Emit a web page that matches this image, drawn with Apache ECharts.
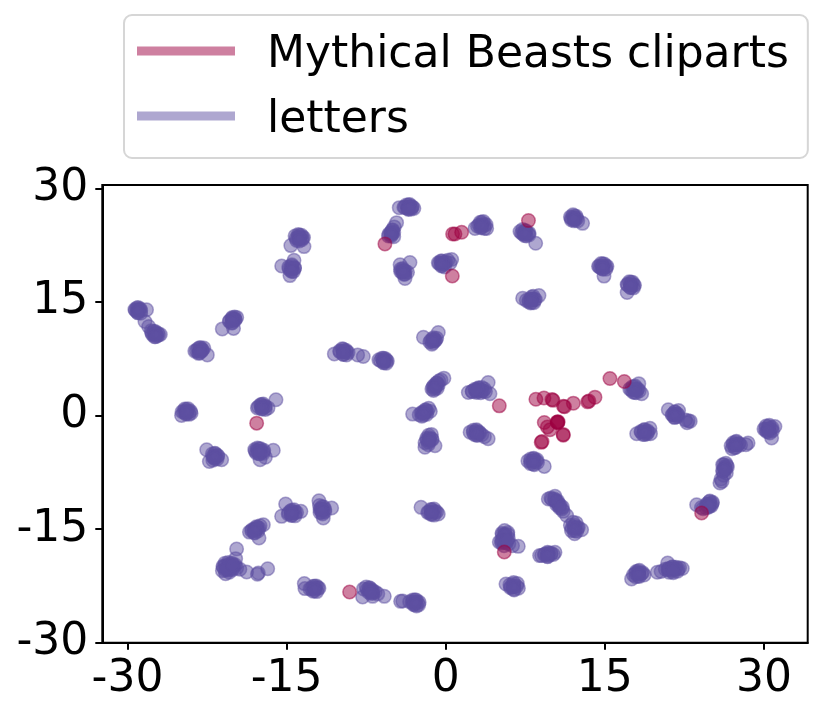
<!DOCTYPE html>
<html>
<head>
<meta charset="utf-8">
<style>
  html, body { margin: 0; padding: 0; background: #fff; }
  #chart { width: 830px; height: 716px; }
</style>
<script src="https://cdn.jsdelivr.net/npm/echarts@6/dist/echarts.min.js"></script>
</head>
<body>
<div id="chart"></div>
<script>
var xTicks = [-30, -15, 0, 15, 30];
var yTicks = [-30, -15, 0, 15, 30];

var mythicalBeasts = [
  [-5.73, 22.65], [0.65, 23.97], [0.87, 23.97], [1.5, 24.2], [7.8, 25.73], [0.62, 18.42],
  [5.05, 1.27], [15.48, 4.88], [16.83, 4.48], [8.5, 2.15], [9.26, 2.3], [10.02, 2.1], [10.12, 2.0],
  [11.1, 1.22], [11.2, 1.15], [12.03, 1.63], [13.38, 1.8], [13.5, 1.9], [14.07, 2.42],
  [9.29, -0.92], [9.58, -1.53], [9.83, -1.89], [10.5, -0.85], [10.55, -0.9], [10.6, -0.82], [10.55, -0.95],
  [11.08, -2.5], [11.08, -2.6], [9.0, -3.55], [9.08, -3.45], [5.52, -18.03], [24.12, -12.88],
  [-17.82, -1.01], [-9.06, -23.3]
];

var lettersTopLeft = [
  [-29.3, 14.0], [-29.1, 14.2], [-28.95, 13.9], [-28.8, 14.1], [-29.05, 13.6], [-28.75, 13.5], [-28.2, 13.95],
  [-28.35, 12.4], [-28.0, 11.74], [-27.75, 11.2],
  [-27.7, 10.9], [-27.5, 11.1], [-27.35, 10.8], [-27.2, 10.5], [-27.45, 10.4], [-27.05, 10.65], [-26.9, 10.7],
  [-23.65, 8.5], [-23.35, 8.8], [-23.1, 8.95], [-23.2, 8.4], [-22.95, 8.7], [-22.8, 8.9], [-23.3, 8.2], [-22.47, 8.0],
  [-20.4, 12.45], [-20.15, 12.8], [-19.9, 13.0], [-20.2, 12.2], [-19.85, 12.7], [-19.7, 12.95], [-20.0, 11.5], [-21.06, 11.43],
  [-14.2, 23.7], [-13.9, 23.9], [-13.6, 23.8], [-13.4, 23.5], [-13.85, 23.3], [-13.55, 23.2], [-14.05, 23.1], [-14.6, 22.43], [-13.36, 22.3],
  [-14.8, 19.6], [-14.5, 19.9], [-14.25, 19.5], [-14.6, 19.1], [-14.35, 19.0], [-14.3, 20.5], [-15.46, 19.74], [-14.68, 18.47],
  [-3.95, 27.5], [-3.7, 27.8], [-3.4, 27.85], [-3.15, 27.55], [-3.55, 27.3], [-3.25, 27.25], [-3.0, 27.35], [-4.38, 27.44],
  [-5.4, 23.7], [-5.2, 24.1], [-5.0, 24.5], [-4.85, 24.9], [-5.1, 23.9], [-4.9, 23.6], [-4.63, 25.46],
  [-4.3, 19.9], [-4.25, 19.3], [-4.1, 18.9], [-3.95, 19.1], [-3.85, 18.65], [-3.6, 18.9], [-3.37, 20.2], [-3.84, 18.1],
  [-0.7, 20.15], [-0.45, 20.4], [-0.2, 20.0], [0.0, 20.3], [-0.4, 19.75], [-0.1, 19.6], [0.2, 20.5], [0.56, 20.6], [0.4, 20.1],
  [-1.5, 9.7], [-1.25, 10.1], [-1.0, 9.9], [-1.3, 9.4], [-0.85, 10.2], [-0.7, 10.95], [-2.1, 10.33],
  [-10.0, 8.5], [-9.75, 8.8], [-9.4, 8.6], [-9.2, 8.3], [-9.65, 8.1], [-9.35, 8.0], [-10.5, 8.13], [-8.3, 8.0], [-7.77, 7.78],
  [-6.3, 7.35], [-6.0, 7.55], [-5.7, 7.5], [-5.5, 7.2], [-5.85, 7.0], [-5.6, 6.9],
  [-1.3, 3.5], [-1.1, 3.95], [-0.85, 4.3], [-0.65, 4.55], [-1.15, 3.3], [-0.8, 3.6], [-0.17, 4.93], [-0.45, 4.7],
  [-2.5, 0.1], [-2.2, 0.4], [-1.9, 0.7], [-1.6, 0.95], [-2.25, -0.1], [-1.8, 0.15], [-3.12, 0.18], [-1.45, 0.55],
  [-24.85, 0.5], [-24.6, 0.85], [-24.3, 0.9], [-24.05, 0.55], [-24.5, 0.25], [-24.2, 0.15], [-24.9, 0.0], [-24.0, 0.3],
  [-17.75, 1.0], [-17.45, 1.4], [-17.2, 1.5], [-17.0, 1.2], [-17.35, 0.9], [-17.0, 0.8], [-16.75, 1.0], [-16.0, 2.07]
];

var lettersTopRight = [
  [3.0, 25.0], [3.25, 25.5], [3.55, 25.6], [3.8, 25.2], [3.3, 24.8], [3.65, 24.7], [2.76, 24.7], [3.86, 24.7],
  [7.0, 24.3], [7.25, 24.55], [7.55, 24.4], [7.85, 24.1], [7.3, 23.95], [7.6, 23.7], [7.85, 23.85], [8.48, 22.73],
  [11.75, 26.2], [12.0, 26.5], [12.3, 26.3], [12.15, 25.85], [12.45, 25.7], [11.85, 25.8], [12.9, 25.37],
  [14.4, 19.7], [14.65, 20.05], [14.95, 20.0], [15.2, 19.7], [14.8, 19.35], [15.1, 19.3], [14.92, 18.4], [14.6, 19.5],
  [17.1, 17.3], [17.3, 17.65], [17.6, 17.6], [17.8, 17.2], [17.4, 16.9], [17.7, 16.85], [17.1, 16.23],
  [7.25, 15.48], [7.85, 15.0], [8.05, 15.4], [8.25, 15.75], [8.45, 15.3], [8.0, 14.85], [8.3, 14.9], [7.6, 15.2], [8.79, 15.83],
  [2.13, 3.04], [2.5, 3.2], [2.8, 3.35], [3.1, 3.6], [3.4, 3.7], [3.65, 3.5], [2.9, 3.05], [3.3, 3.0], [3.75, 3.15], [4.0, 4.36], [4.17, 2.86],
  [17.35, 3.5], [17.6, 3.8], [17.85, 3.9], [18.1, 3.5], [17.65, 3.1], [17.95, 3.0], [18.25, 3.25], [18.47, 2.86], [18.2, 4.2],
  [20.98, 0.75], [21.4, 0.1], [21.6, 0.45], [21.85, 0.2], [21.55, -0.25], [21.85, -0.15], [21.95, 0.65], [22.6, -0.6], [22.87, -0.7], [23.05, -0.75], [22.75, -0.95],
  [2.3, -2.2], [2.6, -1.95], [2.9, -1.9], [3.15, -2.2], [2.7, -2.5], [3.0, -2.6], [3.4, -2.55], [3.65, -2.8], [4.0, -3.07],
  [18.0, -2.41], [18.4, -2.1], [18.7, -1.9], [19.0, -2.0], [19.25, -1.7], [18.6, -2.5], [18.95, -2.45], [19.3, -2.4],
  [7.75, -6.0], [8.0, -5.75], [8.3, -5.65], [8.6, -5.85], [8.0, -6.35], [8.35, -6.5], [8.65, -6.2], [9.29, -6.72],
  [30.0, -1.8], [30.2, -1.4], [30.5, -1.3], [30.75, -1.6], [30.25, -2.1], [30.55, -2.3], [30.8, -2.0], [31.03, -1.45], [30.72, -2.98],
  [26.9, -4.0], [27.1, -3.6], [27.4, -3.4], [27.65, -3.7], [27.25, -4.25], [27.0, -4.4], [27.8, -3.9], [28.3, -3.85], [28.5, -3.64],
  [26.1, -6.5], [26.4, -6.3], [26.55, -6.8], [26.3, -7.1], [26.15, -7.4], [26.2, -7.9], [26.45, -7.6], [25.85, -8.92], [25.95, -8.4], [26.05, -8.7],
  [24.6, -11.7], [24.9, -11.3], [25.15, -11.45], [24.55, -12.2], [24.85, -12.0], [24.25, -12.3], [24.1, -12.15], [25.05, -11.9], [23.65, -11.78]
];

var lettersBottomLeft = [
  [-22.53, -4.53], [-22.0, -5.1], [-21.75, -5.0], [-21.5, -5.3], [-21.85, -5.6], [-21.55, -5.75], [-22.28, -6.07], [-21.12, -5.85], [-21.95, -5.9],
  [-18.0, -4.5], [-17.75, -4.3], [-17.45, -4.4], [-17.15, -4.6], [-17.85, -4.95], [-17.55, -5.05], [-17.2, -5.0], [-17.5, -5.85], [-17.0, -5.5], [-16.25, -4.6],
  [-1.95, -3.6], [-1.8, -3.0], [-1.6, -2.6], [-1.35, -2.5], [-1.55, -3.2], [-1.3, -3.1], [-1.65, -3.85], [-1.96, -4.18], [-1.01, -4.0],
  [-15.09, -11.7], [-14.85, -13.0], [-14.6, -12.6], [-14.3, -12.45], [-14.05, -12.8], [-14.55, -13.2], [-14.2, -13.25], [-15.47, -13.32], [-13.65, -12.66],
  [-11.95, -11.25], [-11.9, -11.9], [-11.75, -12.3], [-11.5, -12.1], [-11.85, -12.8], [-11.6, -13.0], [-11.4, -12.7], [-11.54, -13.54], [-10.75, -12.22],
  [-1.7, -12.8], [-1.4, -12.4], [-1.1, -12.35], [-0.85, -12.75], [-1.4, -13.05], [-1.1, -13.15], [-0.7, -13.0], [-2.33, -12.13],
  [-18.5, -15.4], [-18.25, -15.1], [-18.0, -14.95], [-17.75, -14.75], [-17.5, -14.55], [-17.19, -14.42], [-18.0, -15.5], [-17.7, -15.25], [-17.6, -16.18],
  [-21.0, -19.9], [-20.8, -19.5], [-20.5, -19.4], [-20.15, -19.5], [-19.85, -19.7], [-21.05, -20.5], [-20.7, -20.2], [-20.35, -20.1], [-20.0, -20.05], [-19.7, -20.15],
  [-20.75, -20.9], [-20.4, -20.7], [-19.71, -17.63], [-19.8, -18.9], [-19.4, -20.3], [-18.76, -20.67], [-17.66, -20.8], [-17.75, -20.95], [-16.78, -20.23],
  [-13.33, -22.2], [-13.27, -22.86], [-12.8, -22.9], [-12.5, -22.55], [-12.2, -22.5], [-11.95, -22.8], [-12.5, -23.2], [-12.15, -23.25],
  [-7.75, -22.9], [-7.5, -22.65], [-7.2, -22.75], [-6.95, -23.05], [-6.65, -23.3], [-6.4, -23.55], [-7.3, -23.3], [-6.9, -23.5], [-7.83, -23.96], [-6.89, -23.88], [-5.79, -23.88],
  [-4.25, -24.54], [-4.05, -24.5], [-3.4, -24.6], [-3.1, -24.35], [-2.8, -24.35], [-2.5, -24.65], [-3.05, -24.95], [-2.75, -25.15], [-2.55, -25.0]
];

var lettersBottomRight = [
  [9.67, -11.03], [9.9, -10.9], [10.3, -10.68], [10.4, -11.3], [10.46, -11.78], [10.7, -11.95], [10.95, -12.35], [11.08, -12.66], [11.4, -13.2],
  [11.75, -14.5], [12.0, -14.1], [12.3, -14.2], [12.5, -14.8], [11.85, -15.2], [12.15, -15.6], [12.35, -15.3], [12.81, -15.08],
  [5.3, -15.55], [5.55, -15.2], [5.85, -15.45], [5.6, -15.95], [5.9, -16.2], [5.05, -16.7], [5.27, -16.84], [5.6, -16.6], [5.95, -16.95], [5.5, -17.2], [6.3, -17.2], [6.84, -17.28],
  [8.85, -18.5], [9.04, -18.5], [9.35, -18.3], [9.6, -18.6], [9.67, -18.15], [9.95, -18.2], [10.3, -18.07], [10.15, -18.35],
  [5.68, -22.25], [6.05, -22.35], [6.4, -22.05], [6.75, -22.2], [6.1, -22.75], [6.45, -23.05], [6.85, -22.8],
  [17.52, -21.58], [17.7, -21.05], [17.95, -20.6], [18.25, -20.45], [18.55, -20.75], [17.9, -21.3], [18.25, -21.25], [18.7, -21.05],
  [19.94, -20.7], [20.3, -20.6], [20.92, -19.48], [20.7, -20.3], [21.0, -20.2], [21.35, -20.0], [21.7, -20.05], [22.05, -20.1], [22.3, -20.2], [21.05, -20.7], [21.45, -20.75], [21.85, -20.55]
];

// dense middles of the clumps, where the dots pile up to solid colour
var lettersDense = [
  [-29.0, 13.95], [-29.1, 13.8], [-28.9, 14.0], [-27.4, 10.8], [-27.3, 10.7], [-27.45, 10.65], [-23.2, 8.6], [-23.1, 8.65], [-23.05, 8.5],
  [-20.1, 12.6], [-20.05, 12.5], [-20.0, 12.75], [-13.8, 23.5], [-13.7, 23.45], [-13.9, 23.55], [-13.75, 23.35], [-14.5, 19.4], [-14.45, 19.5], [-14.55, 19.3],
  [-3.55, 27.55], [-3.5, 27.45], [-3.35, 27.5], [-3.6, 27.4], [-5.15, 24.05], [-5.05, 24.2], [-5.1, 24.0], [-4.0, 19.0], [-4.05, 19.2], [-3.95, 18.9],
  [-0.35, 20.15], [-0.3, 20.05], [-0.4, 20.1], [-1.15, 9.9], [-1.2, 9.85], [-1.1, 10.0], [-9.65, 8.45], [-9.6, 8.35], [-9.55, 8.5], [-5.9, 7.3], [-5.85, 7.25], [-5.8, 7.2],
  [-0.95, 3.9], [-0.9, 3.85], [-1.0, 3.75], [-2.0, 0.45], [-1.95, 0.35], [-2.1, 0.3], [-24.45, 0.55], [-24.5, 0.5], [-24.4, 0.45], [-17.35, 1.15], [-17.3, 1.2], [-17.25, 1.1],
  [3.4, 25.2], [3.35, 25.1], [3.45, 25.15], [7.45, 24.05], [7.5, 24.1], [7.4, 24.0], [12.1, 26.05], [12.15, 26.1], [12.05, 25.95], [14.8, 19.7], [14.85, 19.65], [14.75, 19.6],
  [17.45, 17.25], [17.4, 17.3], [17.5, 17.2], [8.1, 15.3], [8.05, 15.25], [8.15, 15.35], [2.9, 3.3], [3.0, 3.4], [3.2, 3.35], [3.4, 3.3],
  [17.8, 3.4], [17.75, 3.45], [17.85, 3.35], [21.6, 0.1], [21.65, 0.05], [21.55, 0.15], [2.9, -2.3], [2.85, -2.2], [3.0, -2.35], [18.75, -2.2], [18.8, -2.25], [18.7, -2.15],
  [8.25, -6.1], [8.2, -6.05], [8.3, -6.0], [30.4, -1.8], [30.45, -1.75], [30.35, -1.85], [27.35, -3.85], [27.3, -3.8], [27.4, -3.9], [26.3, -6.8], [26.35, -6.9], [26.25, -7.0],
  [24.85, -11.75], [24.8, -11.7], [24.9, -11.8]
];

var lettersDenseLower = [
  [-21.75, -5.4], [-21.7, -5.35], [-21.8, -5.45], [-17.65, -4.75], [-17.6, -4.7], [-17.4, -4.8], [-17.75, -4.65], [-1.55, -3.3], [-1.6, -3.2], [-1.5, -3.15],
  [-14.5, -12.85], [-14.45, -12.8], [-14.55, -12.9], [-11.65, -12.4], [-11.7, -12.5], [-11.6, -12.55], [-1.3, -12.75], [-1.25, -12.7], [-1.35, -12.8],
  [-18.0, -15.1], [-17.95, -15.05], [-18.1, -15.2], [-17.8, -15.0], [-20.5, -20.0], [-20.55, -19.9], [-20.45, -20.15], [-20.3, -19.95], [-20.25, -20.2], [-20.65, -20.3], [-20.15, -20.0],
  [-12.35, -22.85], [-12.3, -22.8], [-12.4, -22.9], [-7.15, -23.1], [-7.1, -23.15], [-7.2, -23.05], [-6.9, -23.3], [-2.9, -24.65], [-2.85, -24.7], [-2.95, -24.75],
  [10.3, -11.2], [10.4, -11.4], [10.6, -11.6], [10.75, -11.8], [10.25, -11.0], [12.15, -14.85], [12.2, -14.9], [12.1, -14.75],
  [5.55, -15.75], [5.6, -15.7], [5.5, -15.85], [5.35, -16.4], [5.45, -16.7], [5.7, -16.8], [9.6, -18.35], [9.65, -18.4], [9.7, -18.3], [6.4, -22.6], [6.45, -22.55], [6.35, -22.65],
  [18.15, -20.85], [18.2, -20.9], [18.1, -20.8], [21.4, -20.3], [21.45, -20.35], [21.2, -20.25], [21.65, -20.3], [21.0, -20.4]
];

// outer edge of the solid part of each clump
var lettersEdge = [
  [-29.25, 13.9], [-28.75, 13.85], [-29.0, 14.25], [-29.0, 13.55], [-27.65, 10.7], [-27.15, 10.85], [-27.4, 11.1], [-27.35, 10.4],
  [-23.5, 8.55], [-22.95, 8.6], [-23.2, 8.95], [-23.2, 8.25], [-20.35, 12.5], [-19.85, 12.6], [-20.1, 12.95], [-20.1, 12.25],
  [-14.1, 23.4], [-13.5, 23.45], [-13.8, 23.8], [-13.8, 23.05], [-14.75, 19.35], [-14.25, 19.45], [-14.5, 19.75], [-14.5, 19.0],
  [-3.85, 27.5], [-3.2, 27.5], [-3.5, 27.8], [-3.5, 27.2], [-5.35, 23.95], [-4.9, 24.15], [-5.05, 24.45], [-5.15, 23.7],
  [-4.25, 19.0], [-3.8, 19.05], [-4.05, 19.4], [-3.95, 18.65], [-0.6, 20.1], [-0.1, 20.1], [-0.35, 20.4], [-0.35, 19.8],
  [-1.4, 9.9], [-0.95, 9.95], [-1.15, 10.25], [-1.2, 9.6], [-9.95, 8.4], [-9.35, 8.4], [-9.65, 8.75], [-9.65, 8.05],
  [-6.15, 7.25], [-5.6, 7.25], [-5.85, 7.55], [-5.85, 6.95], [-1.2, 3.75], [-0.7, 4.05], [-0.85, 4.25], [-1.05, 3.5],
  [-2.3, 0.35], [-1.75, 0.55], [-1.9, 0.75], [-2.1, 0.05], [-24.7, 0.5], [-24.2, 0.5], [-24.45, 0.8], [-24.45, 0.2],
  [-17.65, 1.15], [-17.05, 1.15], [-17.35, 1.45], [-17.3, 0.85], [3.15, 25.15], [3.65, 25.15], [3.4, 25.5], [3.4, 24.85],
  [7.15, 24.1], [7.75, 24.0], [7.45, 24.4], [7.45, 23.75], [11.85, 26.05], [12.35, 26.0], [12.1, 26.35], [12.1, 25.7],
  [14.5, 19.65], [15.1, 19.65], [14.8, 20.0], [14.8, 19.35], [17.15, 17.25], [17.7, 17.25], [17.45, 17.6], [17.45, 16.9],
  [7.85, 15.25], [8.35, 15.3], [8.1, 15.65], [8.1, 14.95], [2.5, 3.15], [3.0, 3.2], [3.5, 3.2], [3.1, 3.65], [2.75, 3.45],
  [17.5, 3.4], [18.05, 3.4], [17.8, 3.75], [17.8, 3.05], [21.35, 0.1], [21.85, 0.1], [21.6, 0.45], [21.6, -0.25],
  [2.6, -2.25], [3.2, -2.35], [2.9, -2.0], [2.9, -2.6], [18.45, -2.2], [19.05, -2.2], [18.75, -1.9], [18.75, -2.5],
  [8.0, -6.05], [8.5, -6.0], [8.25, -5.75], [8.25, -6.4], [30.15, -1.8], [30.65, -1.8], [30.4, -1.45], [30.4, -2.15],
  [27.1, -3.85], [27.6, -3.8], [27.35, -3.5], [27.35, -4.2], [26.2, -6.5], [26.5, -6.6], [26.1, -7.3], [26.35, -7.15],
  [24.6, -11.85], [25.1, -11.6], [24.85, -11.4], [24.75, -12.1], [-21.95, -5.4], [-21.5, -5.35], [-21.75, -5.05], [-21.75, -5.7],
  [-17.95, -4.7], [-17.2, -4.75], [-17.6, -4.4], [-17.6, -5.05], [-1.75, -3.25], [-1.3, -3.2], [-1.55, -2.9], [-1.6, -3.55],
  [-14.8, -12.85], [-14.2, -12.8], [-14.5, -12.5], [-14.5, -13.15], [-11.85, -12.4], [-11.4, -12.4], [-11.65, -12.05], [-11.65, -12.8],
  [-1.6, -12.75], [-1.0, -12.7], [-1.3, -12.45], [-1.3, -13.05], [-18.3, -15.25], [-17.6, -14.85], [-17.85, -14.7], [-18.05, -15.45],
  [-20.95, -20.05], [-19.95, -19.85], [-20.45, -19.65], [-20.45, -20.45], [-20.75, -19.8], [-20.1, -20.35], [-20.8, -20.4], [-20.1, -19.7],
  [-12.65, -22.85], [-12.05, -22.75], [-12.35, -22.55], [-12.35, -23.15], [-7.4, -22.95], [-6.85, -23.25], [-7.15, -22.8], [-7.1, -23.45],
  [-3.15, -24.65], [-2.65, -24.65], [-2.9, -24.35], [-2.9, -25.0], [10.0, -11.05], [10.55, -11.3], [11.0, -12.1], [10.75, -12.2],
  [11.9, -14.85], [12.4, -14.85], [12.15, -14.5], [12.15, -15.2], [5.35, -15.7], [5.85, -15.7], [5.25, -16.55], [5.8, -16.5],
  [9.3, -18.4], [9.9, -18.3], [9.6, -18.05], [9.6, -18.65], [6.15, -22.6], [6.7, -22.55], [6.4, -22.25], [6.4, -22.95],
  [17.9, -20.85], [18.45, -20.85], [18.15, -20.55], [18.15, -21.2], [20.95, -20.3], [21.9, -20.25], [21.4, -20.0], [21.4, -20.6]
];

var letters = lettersTopLeft.concat(lettersTopRight, lettersBottomLeft, lettersBottomRight, lettersDense, lettersDenseLower, lettersEdge);

var chart = echarts.init(document.getElementById('chart'));

var font = 'DejaVu Sans';

chart.setOption({
  animation: false,
  backgroundColor: '#fff',
  textStyle: { fontFamily: font },
  grid: {
    left: 102.3,
    top: 185,
    right: 22.3,
    bottom: 73.3,
    show: true,
    borderColor: '#000',
    borderWidth: 2,
    backgroundColor: '#fff'
  },
  legend: {
    show: true,
    orient: 'vertical',
    left: 124,
    top: 15,
    padding: [9, 19, 15, 13],
    itemGap: 11,
    itemWidth: 98,
    itemHeight: 9,
    borderColor: '#d6d6d6',
    borderWidth: 2,
    borderRadius: 8,
    selectedMode: false,
    formatter: '{t|{name}}',
    textStyle: {
      fontFamily: font,
      fontSize: 44,
      color: '#000',
      rich: {
        t: {
          fontFamily: font,
          fontSize: 44,
          lineHeight: 44,
          color: '#000',
          padding: [10, 0, 0, 27]
        }
      }
    },
    data: [
      { name: 'Mythical Beasts cliparts', icon: 'rect', itemStyle: { color: 'rgba(158,1,66,0.5)', borderWidth: 0 } },
      { name: 'letters', icon: 'rect', itemStyle: { color: 'rgba(94,79,162,0.5)', borderWidth: 0 } }
    ]
  },
  xAxis: {
    type: 'value',
    min: -32.37,
    max: 34.12,
    splitLine: { show: false },
    axisLine: { show: true, onZero: false, lineStyle: { color: '#000', width: 2 } },
    axisTick: { show: true, length: 7, customValues: xTicks, lineStyle: { color: '#000', width: 2 } },
    axisLabel: {
      customValues: xTicks,
      fontFamily: font,
      fontSize: 44,
      color: '#000',
      margin: 15
    }
  },
  yAxis: {
    type: 'value',
    min: -30,
    max: 30.43,
    splitLine: { show: false },
    axisLine: { show: true, onZero: false, lineStyle: { color: '#000', width: 2 } },
    axisTick: { show: true, length: 7, customValues: yTicks, lineStyle: { color: '#000', width: 2 } },
    axisLabel: {
      customValues: yTicks,
      fontFamily: font,
      fontSize: 44,
      color: '#000',
      margin: 14
    }
  },
  series: [
    {
      name: 'letters',
      type: 'scatter',
      symbolSize: 13.5,
      data: letters,
      itemStyle: {
        color: 'rgba(94,79,162,0.5)',
        borderColor: 'rgba(94,79,162,0.5)',
        borderWidth: 1.5,
        opacity: 1
      }
    },
    {
      name: 'Mythical Beasts cliparts',
      type: 'scatter',
      symbolSize: 13.5,
      data: mythicalBeasts,
      itemStyle: {
        color: 'rgba(158,1,66,0.5)',
        borderColor: 'rgba(158,1,66,0.5)',
        borderWidth: 1.5,
        opacity: 1
      }
    }
  ]
});
</script>
</body>
</html>
